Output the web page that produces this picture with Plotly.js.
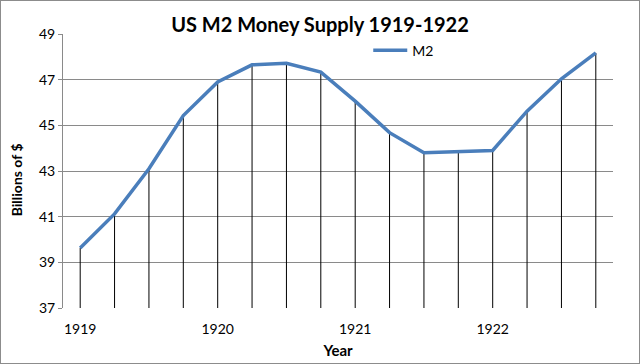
<!DOCTYPE html>
<html>
<head>
<meta charset="utf-8">
<script src="https://cdn.plot.ly/plotly-3.0.1.min.js"></script>
<style>
html,body{margin:0;padding:0;background:#fff;}
#chart{width:638px;height:362px;border:1px solid #8c8c8c;}
</style>
</head>
<body>
<div id="chart"></div>
<script>
const quarters = ['1919 Q1','1919 Q2','1919 Q3','1919 Q4','1920 Q1','1920 Q2','1920 Q3','1920 Q4',
                  '1921 Q1','1921 Q2','1921 Q3','1921 Q4','1922 Q1','1922 Q2','1922 Q3','1922 Q4'];
const m2 = [39.63, 41.12, 43.1, 45.43, 46.9, 47.65, 47.72, 47.33, 46.06, 44.68, 43.8, 43.86, 43.9, 45.62, 47.04, 48.17];
const yearLabels = ['1919','1920','1921','1922'];
const yearTickIdx = [0, 4, 8, 12];
const yMin = 37;

const idx = quarters.map((q, i) => i);
const dropX = [], dropY = [];
idx.forEach(i => { dropX.push(i, i, null); dropY.push(yMin, m2[i], null); });

const font = 'Lato, "Open Sans", sans-serif';

const traces = [
  {x: dropX, y: dropY, mode: 'lines', line: {color: '#000', width: 1}, showlegend: false, hoverinfo: 'skip'},
  {x: idx, y: m2, name: 'M2', mode: 'lines', line: {color: '#4a7ebb', width: 3.5}, text: quarters}
];

const layout = {
  width: 638, height: 362,
  margin: {l: 62, r: 26, t: 33, b: 55},
  paper_bgcolor: '#fff', plot_bgcolor: '#fff',
  font: {family: font, size: 14, color: '#000'},
  title: {text: '<b>US M2 Money Supply 1919-1922</b>', font: {family: font, size: 20, color: '#000'}, x: 0.5, xanchor: 'center', y: 0.935, yanchor: 'middle'},
  xaxis: {
    range: [-0.5, 15.5], tickvals: yearTickIdx, ticktext: yearLabels,
    showgrid: false, zeroline: false, showline: false, ticks: '',
    ticklabelstandoff: 11,
    tickfont: {family: font, size: 14},
    title: {text: '<b>Year</b>', font: {family: font, size: 15}, standoff: 9}
  },
  yaxis: {
    range: [37, 49], dtick: 2, tick0: 37,
    showgrid: true, gridcolor: '#8a8a8a', gridwidth: 1,
    zeroline: false, showline: true, linecolor: '#8a8a8a', linewidth: 1,
    ticks: 'outside', ticklen: 4, tickcolor: '#8a8a8a',
    tickfont: {family: font, size: 14}
  },
  annotations: [{
    text: '<b>Billions of $</b>', textangle: -90, showarrow: false,
    xref: 'paper', yref: 'paper', x: -0.085, y: 0.467, xanchor: 'center', yanchor: 'middle',
    font: {family: font, size: 14, color: '#000'}
  }],
  legend: {x: 0.555, y: 0.998, xanchor: 'left', yanchor: 'top', bgcolor: 'rgba(0,0,0,0)', font: {family: font, size: 14}, itemwidth: 34},
  showlegend: true
};

Plotly.newPlot('chart', traces, layout, {staticPlot: true});
</script>
</body>
</html>
